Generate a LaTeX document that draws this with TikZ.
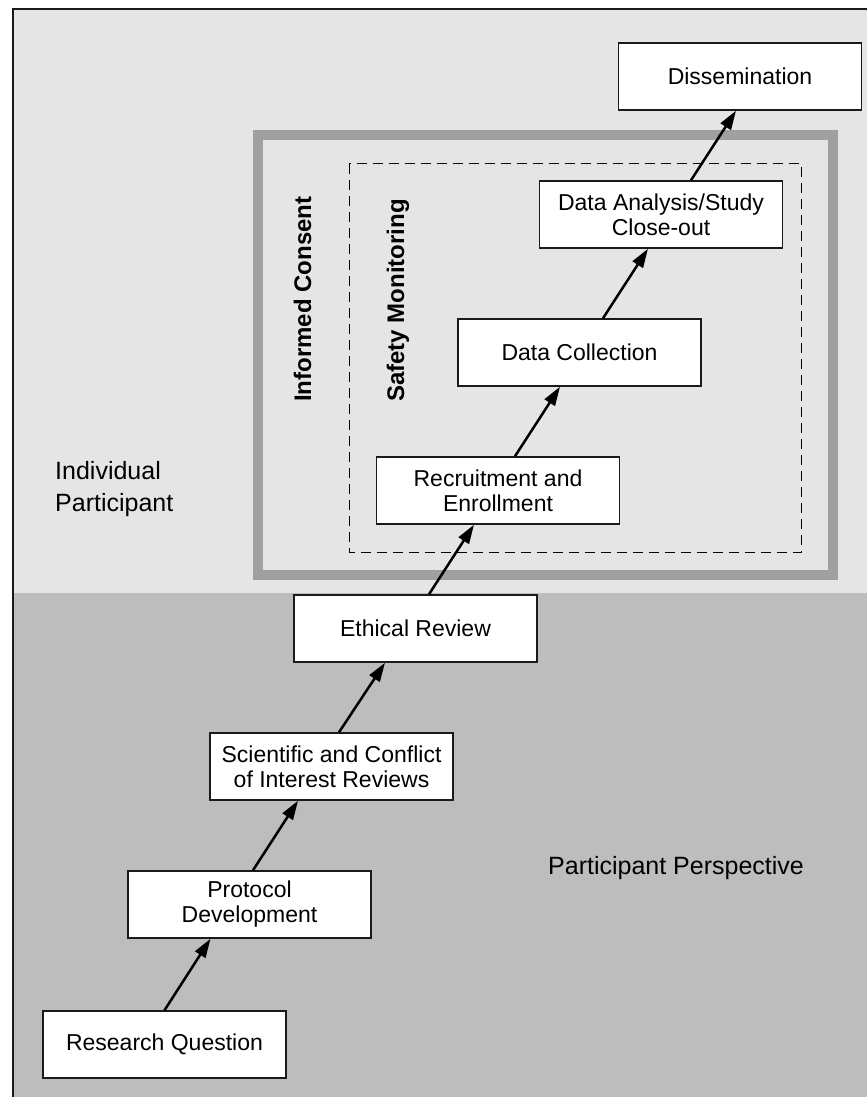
\documentclass[tikz,border=0pt]{standalone}
\usepackage{fontspec}
\setmainfont{Liberation Sans}
\usetikzlibrary{arrows.meta}
\definecolor{lightbg}{HTML}{E5E5E5}
\definecolor{darkbg}{HTML}{BDBDBD}
\definecolor{framegray}{HTML}{A0A0A0}
\definecolor{edge}{HTML}{1A1A1A}
\begin{document}
\begin{tikzpicture}[x=1pt,y=-1pt,
  stagebox/.style={draw=edge, line width=1.5pt, fill=white, minimum width=243pt, minimum height=67pt,
    inner sep=0pt, align=center, font=\fontsize{23}{25}\selectfont},
  flow/.style={line width=2.5pt, draw=black, -{Triangle[length=19pt,width=12pt]}},
  sidelabel/.style={font=\fontsize{24}{28}\selectfont\bfseries, rotate=90, anchor=base west, inner sep=0pt},
  plainlabel/.style={font=\fontsize{25}{32}\selectfont, align=left, inner sep=0pt}]
\useasboundingbox (0,0) rectangle (867,1097);
\fill[white] (0,0) rectangle (867,1097);
\fill[lightbg] (13,9) rectangle (867,593);
\fill[darkbg] (13,593) rectangle (867,1097);
\draw[line width=1.5pt, edge] (867,9) -- (13,9) -- (13,1097);

% frames
\draw[line width=10pt, framegray] (258,135) rectangle (833,575);
\draw[line width=1pt, dash pattern=on 10pt off 6pt] (349,163.5) rectangle (801.5,552);

% side labels
\node[sidelabel] (ic) at (311,402) {Informed Consent};
\node[sidelabel] (sm) at (404,402) {Safety Monitoring};

% plain labels
\node[plainlabel, anchor=north west] (ip) at (55,461) {Individual\\Participant};
\node[plainlabel, anchor=base west] (pp) at (548,874) {Participant Perspective};

% stages
\node[stagebox] (dis) at (740,76.5) {Dissemination};
\node[stagebox] (da) at (661,214.5) {Data Analysis/Study\\Close-out};
\node[stagebox] (dc) at (579.5,352.5) {Data Collection};
\node[stagebox] (rec) at (498,490.5) {Recruitment and\\Enrollment};
\node[stagebox] (eth) at (415.5,628.5) {Ethical Review};
\node[stagebox] (sci) at (331.5,766.5) {Scientific and Conflict\\of Interest Reviews};
\node[stagebox] (pro) at (249.5,904.5) {Protocol\\Development};
\node[stagebox] (rq) at (164.5,1044.5) {Research Question};

% connectors
\draw[flow] ([xshift=0pt]rq.north) -- ([xshift=-39pt]pro.south);
\draw[flow] ([xshift=3.5pt]pro.north) -- ([xshift=-33.5pt]sci.south);
\draw[flow] ([xshift=7.5pt]sci.north) -- ([xshift=-30.5pt]eth.south);
\draw[flow] ([xshift=13.5pt]eth.north) -- ([xshift=-24pt]rec.south);
\draw[flow] ([xshift=17pt]rec.north) -- ([xshift=-19.5pt]dc.south);
\draw[flow] ([xshift=23.5pt]dc.north) -- ([xshift=-13pt]da.south);
\draw[flow] ([xshift=30pt]da.north) -- ([xshift=-4pt]dis.south);
\end{tikzpicture}
\end{document}
